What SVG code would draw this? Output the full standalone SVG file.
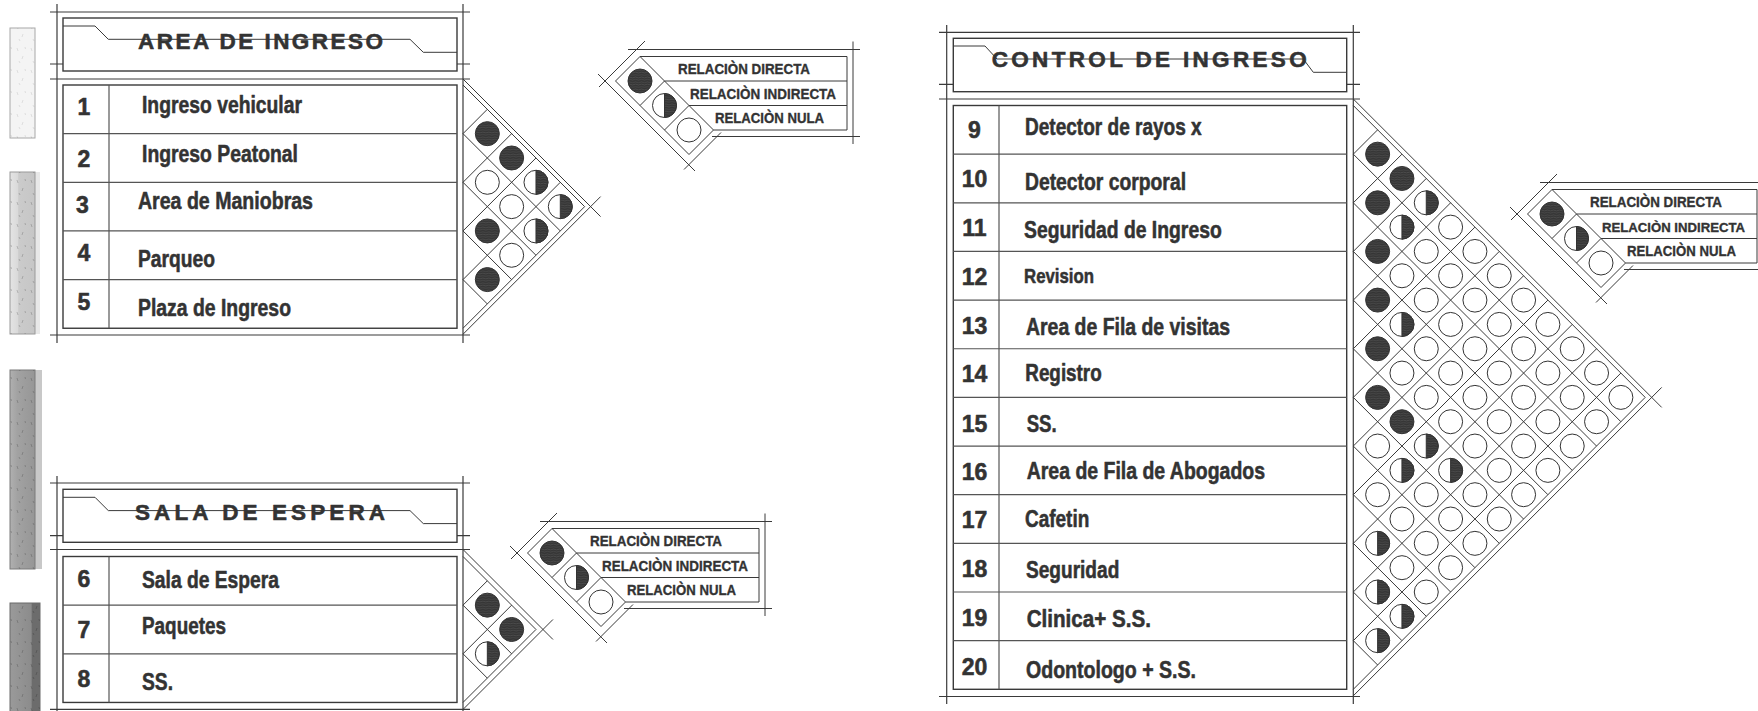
<svg xmlns="http://www.w3.org/2000/svg" width="1758" height="711" viewBox="0 0 1758 711">
<style>
.ln{stroke:#3a3a3a;stroke-width:1.2;fill:none}
.gr{stroke:#3a3a3a;stroke-width:1;fill:none}
.rl{stroke:#555;stroke-width:1.2;fill:none}
.bx{stroke:#3a3a3a;stroke-width:1.4;fill:#fff}
.t{font-family:"Liberation Sans Narrow","Liberation Sans",Arial,sans-serif;font-weight:700;fill:#333;stroke:#333;stroke-width:0.55;stroke-linejoin:round}
.ti{font-size:22.5px}
.rw{font-size:24px}
.rc{font-size:23px}
.nm{font-size:23px;text-anchor:middle}
.lg{font-size:15px;stroke-width:0.35}
</style>
<defs>
<pattern id="tex" width="6" height="2.4" patternUnits="userSpaceOnUse">
<rect width="6" height="2.4" fill="#353535"/>
<path d="M0,1.2 Q1.5,0.5 3,1.2 T6,1.2" stroke="#5e5e5e" stroke-width="0.5" fill="none"/>
</pattern>
<pattern id="speck" width="14" height="22" patternUnits="userSpaceOnUse">
<path d="M3,4 l1,3 M9,12 l-1,3 M5,17 l1,2 M11,3 l0.5,2" stroke="#000" stroke-opacity="0.18" stroke-width="1" fill="none"/>
</pattern>
<linearGradient id="g2" x1="0" x2="1" y1="0" y2="0"><stop offset="0" stop-color="#e4e4e4"/><stop offset="0.3" stop-color="#dadada"/><stop offset="0.35" stop-color="#cbcbcb"/><stop offset="1" stop-color="#c6c6c6"/></linearGradient>
<linearGradient id="g3" x1="0" x2="1" y1="0" y2="0"><stop offset="0" stop-color="#b0b0b0"/><stop offset="0.3" stop-color="#a2a2a2"/><stop offset="1" stop-color="#969696"/></linearGradient>
<linearGradient id="g4" x1="0" x2="1" y1="0" y2="0"><stop offset="0" stop-color="#9a9a9a"/><stop offset="0.7" stop-color="#8c8c8c"/><stop offset="0.75" stop-color="#6c6c6c"/><stop offset="1" stop-color="#6c6c6c"/></linearGradient>
<circle id="cE" r="12" fill="#fff" stroke="#333" stroke-width="1"/>
<circle id="cF" r="12" fill="url(#tex)" stroke="#333" stroke-width="1"/>
<g id="cH"><circle r="12" fill="#fff" stroke="#333" stroke-width="1"/><path d="M0,-12 A12,12 0 0 1 0,12 Z" fill="url(#tex)" stroke="#333" stroke-width="1"/></g>
</defs>
<rect width="1758" height="711" fill="#fff"/>

<g id="bars">
<rect x="10" y="28" width="25" height="110" fill="#f4f4f4" stroke="#a8a8a8"/>
<rect x="10" y="28" width="25" height="110" fill="url(#speck)" opacity="0.5"/>
<rect x="35" y="172" width="5" height="162" fill="#e8e8e8"/>
<rect x="10" y="172" width="25" height="162" fill="url(#g2)" stroke="#9a9a9a"/>
<rect x="10" y="172" width="25" height="162" fill="url(#speck)"/>
<rect x="35" y="370" width="7" height="199" fill="#c8c8c8"/>
<rect x="10" y="370" width="25" height="199" fill="url(#g3)" stroke="#7a7a7a"/>
<rect x="10" y="370" width="25" height="199" fill="url(#speck)"/>
<rect x="10" y="603" width="30" height="110" fill="url(#g4)" stroke="#6a6a6a"/>
<rect x="10" y="603" width="30" height="110" fill="url(#speck)"/>
</g>

<g id="area-ingreso">
<g id="area-ingreso-frame" class="ln">
<line x1="50" y1="12" x2="470" y2="12"/>
<line x1="50" y1="64" x2="470" y2="64"/>
<line x1="50" y1="79" x2="470" y2="79"/>
<line x1="50" y1="335" x2="470" y2="335"/>
<line x1="57" y1="4" x2="57" y2="343"/>
<line x1="463" y1="4" x2="463" y2="343"/>
</g>
<g id="area-ingreso-header">
<rect x="63" y="18" width="394" height="53" class="bx"/>
<polyline points="63,26 95,26 108.3,39.3 410,39.3 423.3,52.3 457,52.3" class="gr"/>
<text x="138" y="49" class="t ti" textLength="245" lengthAdjust="spacing">AREA DE INGRESO</text>
</g>
<g id="area-ingreso-table">
<rect x="63" y="85" width="394" height="243.25" class="bx"/>
<line x1="109" y1="85" x2="109" y2="328.25" class="rl"/>
<line x1="63" y1="133.65" x2="457" y2="133.65" class="rl"/>
<line x1="63" y1="182.3" x2="457" y2="182.3" class="rl"/>
<line x1="63" y1="230.95" x2="457" y2="230.95" class="rl"/>
<line x1="63" y1="279.6" x2="457" y2="279.6" class="rl"/>
</g>
<g id="row-1"><text x="84" y="115" class="t nm">1</text><text x="142" y="113" class="t rw" textLength="160" lengthAdjust="spacingAndGlyphs">Ingreso vehicular</text></g>
<g id="row-2"><text x="84" y="167" class="t nm">2</text><text x="142" y="162" class="t rw" textLength="156" lengthAdjust="spacingAndGlyphs">Ingreso Peatonal</text></g>
<g id="row-3"><text x="82.5" y="213" class="t nm">3</text><text x="138" y="209" class="t rw" textLength="175" lengthAdjust="spacingAndGlyphs">Area de Maniobras</text></g>
<g id="row-4"><text x="84" y="261" class="t nm">4</text><text x="138" y="267" class="t rw" textLength="77" lengthAdjust="spacingAndGlyphs">Parqueo</text></g>
<g id="row-5"><text x="84" y="310" class="t nm">5</text><text x="138" y="316" class="t rw" textLength="153" lengthAdjust="spacingAndGlyphs">Plaza de Ingreso</text></g>
<g id="area-ingreso-matrix">
<g class="gr">
<line x1="463" y1="85" x2="584.625" y2="206.625"/>
<line x1="463" y1="328.25" x2="584.625" y2="206.625"/>
<line x1="463" y1="133.65" x2="560.3" y2="230.95"/>
<line x1="463" y1="182.3" x2="535.975" y2="255.275"/>
<line x1="463" y1="230.95" x2="511.65" y2="279.6"/>
<line x1="463" y1="279.6" x2="487.325" y2="303.925"/>
<line x1="463" y1="133.65" x2="487.325" y2="109.325"/>
<line x1="463" y1="182.3" x2="511.65" y2="133.65"/>
<line x1="463" y1="230.95" x2="535.975" y2="157.975"/>
<line x1="463" y1="279.6" x2="560.3" y2="182.3"/>
<line x1="463" y1="79" x2="600.6" y2="216.6"/>
<line x1="463" y1="334.25" x2="600.6" y2="196.6"/>
</g>
<use href="#cF" x="487.33" y="133.65"/>
<use href="#cF" x="511.65" y="157.98"/>
<use href="#cE" x="487.33" y="182.3"/>
<use href="#cH" x="535.98" y="182.3"/>
<use href="#cE" x="511.65" y="206.63"/>
<use href="#cH" x="560.3" y="206.63"/>
<use href="#cF" x="487.33" y="230.95"/>
<use href="#cH" x="535.98" y="230.95"/>
<use href="#cE" x="511.65" y="255.28"/>
<use href="#cF" x="487.33" y="279.6"/>
</g>
</g>

<g id="sala-espera">
<g id="sala-espera-frame" class="ln">
<line x1="50" y1="483" x2="470" y2="483"/>
<line x1="50" y1="535.7" x2="470" y2="535.7"/>
<line x1="50" y1="549.5" x2="470" y2="549.5"/>
<line x1="50" y1="709.3" x2="470" y2="709.3"/>
<line x1="57" y1="476" x2="57" y2="711"/>
<line x1="463" y1="476" x2="463" y2="711"/>
</g>
<g id="sala-espera-header">
<rect x="63" y="489.3" width="394" height="53" class="bx"/>
<polyline points="63,497.3 95,497.3 108.3,510.6 410,510.6 423.3,523.6 457,523.6" class="gr"/>
<text x="135" y="520" class="t ti" textLength="250" lengthAdjust="spacing">SALA DE ESPERA</text>
</g>
<g id="sala-espera-table">
<rect x="63" y="556.5" width="394" height="145.95" class="bx"/>
<line x1="109" y1="556.5" x2="109" y2="702.45" class="rl"/>
<line x1="63" y1="605.15" x2="457" y2="605.15" class="rl"/>
<line x1="63" y1="653.8" x2="457" y2="653.8" class="rl"/>
</g>
<g id="row-6"><text x="84" y="586.7" class="t nm">6</text><text x="142" y="588.3" class="t rw" textLength="137" lengthAdjust="spacingAndGlyphs">Sala de Espera</text></g>
<g id="row-7"><text x="84" y="638.3" class="t nm">7</text><text x="142" y="634" class="t rw" textLength="84" lengthAdjust="spacingAndGlyphs">Paquetes</text></g>
<g id="row-8"><text x="84" y="686.7" class="t nm">8</text><text x="142" y="690" class="t rw" textLength="31" lengthAdjust="spacingAndGlyphs">SS.</text></g>
<g id="sala-espera-matrix">
<g class="gr">
<line x1="463" y1="556.5" x2="535.975" y2="629.475"/>
<line x1="463" y1="702.45" x2="535.975" y2="629.475"/>
<line x1="463" y1="605.15" x2="511.65" y2="653.8"/>
<line x1="463" y1="653.8" x2="487.325" y2="678.125"/>
<line x1="463" y1="605.15" x2="487.325" y2="580.825"/>
<line x1="463" y1="653.8" x2="511.65" y2="605.15"/>
<line x1="463" y1="549.5" x2="552.975" y2="639.475"/>
<line x1="463" y1="709.45" x2="552.975" y2="619.475"/>
</g>
<use href="#cF" x="487.33" y="605.15"/>
<use href="#cF" x="511.65" y="629.48"/>
<use href="#cH" x="487.33" y="653.8"/>
</g>
</g>

<g id="control-ingreso">
<g id="control-ingreso-frame" class="ln">
<line x1="939" y1="32.3" x2="1360" y2="32.3"/>
<line x1="939" y1="84.3" x2="1360" y2="84.3"/>
<line x1="939" y1="99" x2="1360" y2="99"/>
<line x1="939" y1="696.5" x2="1360" y2="696.5"/>
<line x1="946.7" y1="25" x2="946.7" y2="704"/>
<line x1="1353.3" y1="25" x2="1353.3" y2="704"/>
</g>
<g id="control-ingreso-header">
<rect x="953.3" y="38.3" width="393.4" height="53.4" class="bx"/>
<polyline points="953.3,46 985,46 997,59 1303.3,59 1313.3,72.3 1346.7,72.3" class="gr"/>
<text x="991.7" y="66.7" class="t ti" textLength="315" lengthAdjust="spacing">CONTROL DE INGRESO</text>
</g>
<g id="control-ingreso-table">
<rect x="953.3" y="105.5" width="393.4" height="583.8" class="bx"/>
<line x1="999" y1="105.5" x2="999" y2="689.3" class="rl"/>
<g class="rl">
<line x1="953.3" y1="154.15" x2="1346.7" y2="154.15"/>
<line x1="953.3" y1="202.8" x2="1346.7" y2="202.8"/>
<line x1="953.3" y1="251.45" x2="1346.7" y2="251.45"/>
<line x1="953.3" y1="300.1" x2="1346.7" y2="300.1"/>
<line x1="953.3" y1="348.75" x2="1346.7" y2="348.75"/>
<line x1="953.3" y1="397.4" x2="1346.7" y2="397.4"/>
<line x1="953.3" y1="446.05" x2="1346.7" y2="446.05"/>
<line x1="953.3" y1="494.7" x2="1346.7" y2="494.7"/>
<line x1="953.3" y1="543.35" x2="1346.7" y2="543.35"/>
<line x1="953.3" y1="592" x2="1346.7" y2="592"/>
<line x1="953.3" y1="640.65" x2="1346.7" y2="640.65"/>
</g>
</g>
<g id="row-9"><text x="974.5" y="138.3" class="t nm">9</text><text x="1025" y="135" class="t rc" textLength="176.7" lengthAdjust="spacingAndGlyphs">Detector de rayos x</text></g>
<g id="row-10"><text x="974.5" y="186.7" class="t nm">10</text><text x="1025" y="190" class="t rc" textLength="161" lengthAdjust="spacingAndGlyphs">Detector corporal</text></g>
<g id="row-11"><text x="974.5" y="236" class="t nm">11</text><text x="1024" y="238.3" class="t rc" textLength="197.7" lengthAdjust="spacingAndGlyphs">Seguridad de Ingreso</text></g>
<g id="row-12"><text x="974.5" y="285" class="t nm">12</text><text x="1024" y="283.3" class="t" style="font-size:21px" textLength="70" lengthAdjust="spacingAndGlyphs">Revision</text></g>
<g id="row-13"><text x="974.5" y="334" class="t nm">13</text><text x="1026" y="335" class="t rc" textLength="204" lengthAdjust="spacingAndGlyphs">Area de Fila de visitas</text></g>
<g id="row-14"><text x="974.5" y="381.7" class="t nm">14</text><text x="1025.3" y="380.7" class="t rc" textLength="76.4" lengthAdjust="spacingAndGlyphs">Registro</text></g>
<g id="row-15"><text x="974.5" y="431.7" class="t nm">15</text><text x="1026.7" y="431.7" class="t rc" textLength="30" lengthAdjust="spacingAndGlyphs">SS.</text></g>
<g id="row-16"><text x="974.5" y="480" class="t nm">16</text><text x="1026.7" y="479.3" class="t rc" textLength="238.3" lengthAdjust="spacingAndGlyphs">Area de Fila de Abogados</text></g>
<g id="row-17"><text x="974.5" y="528.3" class="t nm">17</text><text x="1025" y="527.3" class="t rc" textLength="64.3" lengthAdjust="spacingAndGlyphs">Cafetin</text></g>
<g id="row-18"><text x="974.5" y="577.3" class="t nm">18</text><text x="1026" y="578.3" class="t rc" textLength="93.3" lengthAdjust="spacingAndGlyphs">Seguridad</text></g>
<g id="row-19"><text x="974.5" y="626" class="t nm">19</text><text x="1026.7" y="626.7" class="t rc" textLength="124.3" lengthAdjust="spacingAndGlyphs">Clinica+ S.S.</text></g>
<g id="row-20"><text x="974.5" y="675" class="t nm">20</text><text x="1026" y="678.3" class="t rc" textLength="170" lengthAdjust="spacingAndGlyphs">Odontologo + S.S.</text></g>
<g id="control-ingreso-matrix">
<g class="gr">
<line x1="1353.3" y1="105.5" x2="1645.2" y2="397.4"/>
<line x1="1353.3" y1="689.3" x2="1645.2" y2="397.4"/>
<line x1="1353.3" y1="154.15" x2="1620.875" y2="421.725"/>
<line x1="1353.3" y1="202.8" x2="1596.55" y2="446.05"/>
<line x1="1353.3" y1="251.45" x2="1572.225" y2="470.375"/>
<line x1="1353.3" y1="300.1" x2="1547.9" y2="494.7"/>
<line x1="1353.3" y1="348.75" x2="1523.575" y2="519.025"/>
<line x1="1353.3" y1="397.4" x2="1499.25" y2="543.35"/>
<line x1="1353.3" y1="446.05" x2="1474.925" y2="567.675"/>
<line x1="1353.3" y1="494.7" x2="1450.6" y2="592"/>
<line x1="1353.3" y1="543.35" x2="1426.275" y2="616.325"/>
<line x1="1353.3" y1="592" x2="1401.95" y2="640.65"/>
<line x1="1353.3" y1="640.65" x2="1377.625" y2="664.975"/>
<line x1="1353.3" y1="154.15" x2="1377.625" y2="129.825"/>
<line x1="1353.3" y1="202.8" x2="1401.95" y2="154.15"/>
<line x1="1353.3" y1="251.45" x2="1426.275" y2="178.475"/>
<line x1="1353.3" y1="300.1" x2="1450.6" y2="202.8"/>
<line x1="1353.3" y1="348.75" x2="1474.925" y2="227.125"/>
<line x1="1353.3" y1="397.4" x2="1499.25" y2="251.45"/>
<line x1="1353.3" y1="446.05" x2="1523.575" y2="275.775"/>
<line x1="1353.3" y1="494.7" x2="1547.9" y2="300.1"/>
<line x1="1353.3" y1="543.35" x2="1572.225" y2="324.425"/>
<line x1="1353.3" y1="592" x2="1596.55" y2="348.75"/>
<line x1="1353.3" y1="640.65" x2="1620.875" y2="373.075"/>
<line x1="1353.3" y1="99" x2="1661.7" y2="407.4"/>
<line x1="1353.3" y1="695.8" x2="1661.7" y2="387.4"/>
</g>
<use href="#cF" x="1377.63" y="154.15"/>
<use href="#cF" x="1401.95" y="178.48"/>
<use href="#cF" x="1377.63" y="202.8"/>
<use href="#cH" x="1426.28" y="202.8"/>
<use href="#cH" x="1401.95" y="227.13"/>
<use href="#cE" x="1450.6" y="227.13"/>
<use href="#cF" x="1377.63" y="251.45"/>
<use href="#cE" x="1426.28" y="251.45"/>
<use href="#cE" x="1474.93" y="251.45"/>
<use href="#cE" x="1401.95" y="275.78"/>
<use href="#cE" x="1450.6" y="275.78"/>
<use href="#cE" x="1499.25" y="275.78"/>
<use href="#cF" x="1377.63" y="300.1"/>
<use href="#cE" x="1426.28" y="300.1"/>
<use href="#cE" x="1474.93" y="300.1"/>
<use href="#cE" x="1523.58" y="300.1"/>
<use href="#cH" x="1401.95" y="324.43"/>
<use href="#cE" x="1450.6" y="324.43"/>
<use href="#cE" x="1499.25" y="324.43"/>
<use href="#cE" x="1547.9" y="324.43"/>
<use href="#cF" x="1377.63" y="348.75"/>
<use href="#cE" x="1426.28" y="348.75"/>
<use href="#cE" x="1474.93" y="348.75"/>
<use href="#cE" x="1523.58" y="348.75"/>
<use href="#cE" x="1572.23" y="348.75"/>
<use href="#cE" x="1401.95" y="373.08"/>
<use href="#cE" x="1450.6" y="373.08"/>
<use href="#cE" x="1499.25" y="373.08"/>
<use href="#cE" x="1547.9" y="373.08"/>
<use href="#cE" x="1596.55" y="373.08"/>
<use href="#cF" x="1377.63" y="397.4"/>
<use href="#cE" x="1426.28" y="397.4"/>
<use href="#cE" x="1474.93" y="397.4"/>
<use href="#cE" x="1523.58" y="397.4"/>
<use href="#cE" x="1572.23" y="397.4"/>
<use href="#cE" x="1620.88" y="397.4"/>
<use href="#cF" x="1401.95" y="421.73"/>
<use href="#cE" x="1450.6" y="421.73"/>
<use href="#cE" x="1499.25" y="421.73"/>
<use href="#cE" x="1547.9" y="421.73"/>
<use href="#cE" x="1596.55" y="421.73"/>
<use href="#cE" x="1377.63" y="446.05"/>
<use href="#cH" x="1426.28" y="446.05"/>
<use href="#cE" x="1474.93" y="446.05"/>
<use href="#cE" x="1523.58" y="446.05"/>
<use href="#cE" x="1572.23" y="446.05"/>
<use href="#cH" x="1401.95" y="470.38"/>
<use href="#cH" x="1450.6" y="470.38"/>
<use href="#cE" x="1499.25" y="470.38"/>
<use href="#cE" x="1547.9" y="470.38"/>
<use href="#cE" x="1377.63" y="494.7"/>
<use href="#cE" x="1426.28" y="494.7"/>
<use href="#cE" x="1474.93" y="494.7"/>
<use href="#cE" x="1523.58" y="494.7"/>
<use href="#cE" x="1401.95" y="519.03"/>
<use href="#cE" x="1450.6" y="519.03"/>
<use href="#cE" x="1499.25" y="519.03"/>
<use href="#cH" x="1377.63" y="543.35"/>
<use href="#cE" x="1426.28" y="543.35"/>
<use href="#cE" x="1474.93" y="543.35"/>
<use href="#cE" x="1401.95" y="567.68"/>
<use href="#cE" x="1450.6" y="567.68"/>
<use href="#cH" x="1377.63" y="592"/>
<use href="#cE" x="1426.28" y="592"/>
<use href="#cH" x="1401.95" y="616.33"/>
<use href="#cH" x="1377.63" y="640.65"/>
</g>
</g>

<g id="legend-1">
<g class="gr">
<line x1="628" y1="49.5" x2="860" y2="49.5"/>
<line x1="853" y1="41.5" x2="853" y2="144"/>
<line x1="712" y1="136.5" x2="860" y2="136.5"/>
<line x1="645" y1="41" x2="599" y2="87"/>
<line x1="598" y1="74" x2="695" y2="171"/>
<line x1="684" y1="169.5" x2="721" y2="132.5"/>
<polygon points="640,56.5 713.5,130 689,154.5 615.5,81"/>
<line x1="664.5" y1="81" x2="640" y2="105.5"/>
<line x1="689" y1="105.5" x2="664.5" y2="130"/>
<line x1="640" y1="56.5" x2="847" y2="56.5"/>
<line x1="664.5" y1="81" x2="847" y2="81"/>
<line x1="689" y1="105.5" x2="847" y2="105.5"/>
<line x1="713.5" y1="130" x2="847" y2="130"/>
<line x1="847" y1="56.5" x2="847" y2="130"/>
</g>
<use href="#cF" x="640" y="81"/>
<use href="#cH" x="664.5" y="105.5"/>
<use href="#cE" x="689" y="130"/>
<text x="678" y="73.5" class="t lg" textLength="132" lengthAdjust="spacingAndGlyphs">RELACIÒN DIRECTA</text>
<text x="690" y="98.5" class="t lg" textLength="146" lengthAdjust="spacingAndGlyphs">RELACIÒN INDIRECTA</text>
<text x="715" y="123" class="t lg" textLength="109" lengthAdjust="spacingAndGlyphs">RELACIÒN NULA</text>
</g>

<g id="legend-2" transform="translate(-88,472)">
<g class="gr">
<line x1="628" y1="49.5" x2="860" y2="49.5"/>
<line x1="853" y1="41.5" x2="853" y2="144"/>
<line x1="712" y1="136.5" x2="860" y2="136.5"/>
<line x1="645" y1="41" x2="599" y2="87"/>
<line x1="598" y1="74" x2="695" y2="171"/>
<line x1="684" y1="169.5" x2="721" y2="132.5"/>
<polygon points="640,56.5 713.5,130 689,154.5 615.5,81"/>
<line x1="664.5" y1="81" x2="640" y2="105.5"/>
<line x1="689" y1="105.5" x2="664.5" y2="130"/>
<line x1="640" y1="56.5" x2="847" y2="56.5"/>
<line x1="664.5" y1="81" x2="847" y2="81"/>
<line x1="689" y1="105.5" x2="847" y2="105.5"/>
<line x1="713.5" y1="130" x2="847" y2="130"/>
<line x1="847" y1="56.5" x2="847" y2="130"/>
</g>
<use href="#cF" x="640" y="81"/>
<use href="#cH" x="664.5" y="105.5"/>
<use href="#cE" x="689" y="130"/>
<text x="678" y="73.5" class="t lg" textLength="132" lengthAdjust="spacingAndGlyphs">RELACIÒN DIRECTA</text>
<text x="690" y="98.5" class="t lg" textLength="146" lengthAdjust="spacingAndGlyphs">RELACIÒN INDIRECTA</text>
<text x="715" y="123" class="t lg" textLength="109" lengthAdjust="spacingAndGlyphs">RELACIÒN NULA</text>
</g>

<g id="legend-3" transform="translate(912,133)">
<g class="gr">
<line x1="628" y1="49.5" x2="846" y2="49.5"/>
<line x1="712" y1="136.5" x2="846" y2="136.5"/>
<line x1="645" y1="41" x2="599" y2="87"/>
<line x1="598" y1="74" x2="695" y2="171"/>
<line x1="684" y1="169.5" x2="721" y2="132.5"/>
<polygon points="640,56.5 713.5,130 689,154.5 615.5,81"/>
<line x1="664.5" y1="81" x2="640" y2="105.5"/>
<line x1="689" y1="105.5" x2="664.5" y2="130"/>
<line x1="640" y1="56.5" x2="845" y2="56.5"/>
<line x1="664.5" y1="81" x2="845" y2="81"/>
<line x1="689" y1="105.5" x2="845" y2="105.5"/>
<line x1="713.5" y1="130" x2="845" y2="130"/>
<line x1="845" y1="56.5" x2="845" y2="130"/>
</g>
<use href="#cF" x="640" y="81"/>
<use href="#cH" x="664.5" y="105.5"/>
<use href="#cE" x="689" y="130"/>
<text x="678" y="73.5" class="t lg" textLength="132" lengthAdjust="spacingAndGlyphs">RELACIÒN DIRECTA</text>
<text x="690" y="98.5" class="t lg" style="font-size:13.5px" textLength="143" lengthAdjust="spacingAndGlyphs">RELACIÒN INDIRECTA</text>
<text x="715" y="123" class="t lg" textLength="109" lengthAdjust="spacingAndGlyphs">RELACIÒN NULA</text>
</g>
</svg>
